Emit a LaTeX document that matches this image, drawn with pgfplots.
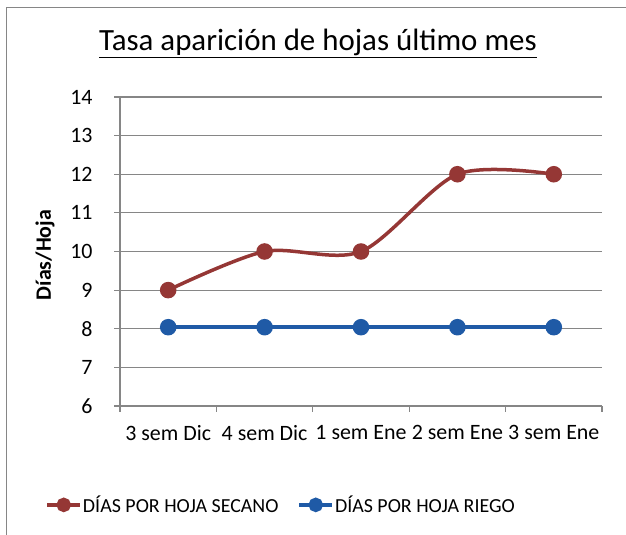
\documentclass[border=0pt]{standalone}
\usepackage{fontspec}
\setmainfont{Carlito}
\usepackage{pgfplots}
\pgfplotsset{compat=1.18}
\definecolor{rojo}{RGB}{149,55,53}
\definecolor{azul}{RGB}{31,90,166}
\definecolor{ejegris}{RGB}{134,134,134}
\begin{document}
\begin{tikzpicture}[x=1bp,y=1bp]
\draw[ejegris, line width=1.2bp] (6.5,0) -- (6.5,527.5) -- (626,527.5);
\node[anchor=center, font=\fontsize{31}{36}\selectfont] at (318,492) {\underline{Tasa aparición de hojas último mes}};
\node[rotate=90, anchor=center, font=\fontsize{22}{26}\selectfont\bfseries] at (45,280) {Días/Hoja};
\begin{axis}[
  at={(120bp,129bp)}, anchor=south west,
  scale only axis, width=482bp, height=309bp,
  xmin=0, xmax=5, ymin=6, ymax=14,
  xtick={0,1,2,3,4,5},
  x tick label as interval,
  xticklabels={3 sem Dic,4 sem Dic,1 sem Ene,2 sem Ene,3 sem Ene},
  ytick={6,7,...,14},
  axis x line*=bottom, axis y line*=left,
  axis line style={ejegris, line width=1.2bp, -},
  tick style={ejegris, line width=1.2bp},
  tick align=outside, major tick length=6bp,
  ymajorgrids, grid style={ejegris, line width=1.2bp},
  xticklabel style={font=\fontsize{22}{26}\selectfont, yshift=-10bp},
  yticklabel style={font=\fontsize{22}{26}\selectfont, xshift=-18bp},
  /pgf/number format/assume math mode=true,
  legend columns=2,
  legend style={draw=none, fill=none, at={(-0.155,-0.32)}, anchor=west,
    font=\fontsize{20}{24}\selectfont, inner xsep=0bp,
    nodes={inner xsep=1bp},
    /tikz/every even column/.append style={column sep=18bp}},
]
\addplot[rojo, line width=3.5bp, smooth, tension=0.5, mark=*, mark size=6.5bp, mark options={fill=rojo},
  legend image code/.code={\draw[rojo, line width=3.5bp] (0bp,0bp) -- (33bp,0bp); \fill[rojo] (16.5bp,0bp) circle (5.5bp);}]
  coordinates {(0.5,9) (1.5,10) (2.5,10) (3.5,12) (4.5,12)};
\addlegendentry{DÍAS POR HOJA SECANO}
\addplot[azul, line width=3.5bp, mark=*, mark size=6.5bp, mark options={fill=azul},
  legend image code/.code={\draw[azul, line width=3.5bp] (0bp,0bp) -- (33bp,0bp); \fill[azul] (16.5bp,0bp) circle (5.5bp);}]
  coordinates {(0.5,8.04) (1.5,8.04) (2.5,8.04) (3.5,8.04) (4.5,8.04)};
\addlegendentry{DÍAS POR HOJA RIEGO}
\end{axis}
\pgfresetboundingbox
\path (0,0) rectangle (626,535);
\end{tikzpicture}
\end{document}
